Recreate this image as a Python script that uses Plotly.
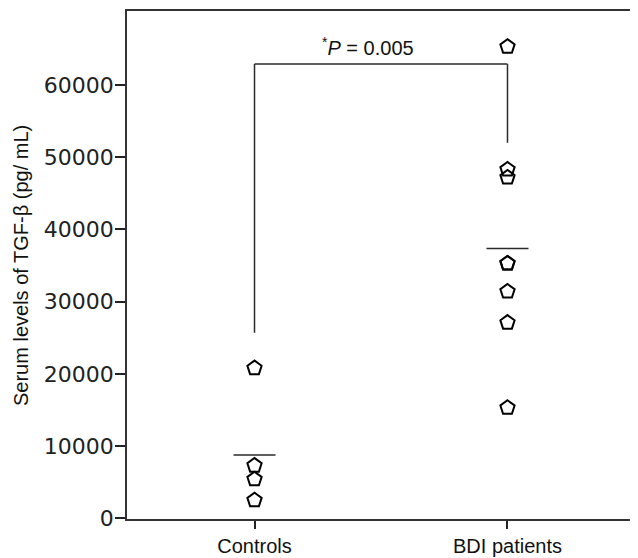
import plotly.graph_objects as go

categories = ["Controls", "BDI patients"]
controls = [20800, 7300, 5400, 2500]
bdi = [65300, 48300, 47200, 35300, 35300, 31400, 27100, 15300]
group_means = [8750, 37350]
y_ticks = [0, 10000, 20000, 30000, 40000, 50000, 60000]
bracket_y = [25700, 62900, 52000]
p_label = "<sup>*</sup><i>P</i> = 0.005"
y_title = "Serum levels of TGF-β (pg/ mL)"

fig = go.Figure()
marker = dict(symbol="pentagon-open", size=15, color="black", line=dict(width=2, color="black"))
fig.add_trace(go.Scatter(x=[0] * len(controls), y=controls, mode="markers", marker=marker, showlegend=False))
fig.add_trace(go.Scatter(x=[1] * len(bdi), y=bdi, mode="markers", marker=marker, showlegend=False))

line_style = dict(color="#2a2a2a", width=1.5)
half = 0.083
for i, m in enumerate(group_means):
    fig.add_shape(type="line", xref="x", yref="y", x0=i - half, x1=i + half, y0=m, y1=m, line=line_style)

# significance bracket
fig.add_shape(type="line", xref="x", yref="y", x0=0, x1=0, y0=bracket_y[0], y1=bracket_y[1], line=line_style)
fig.add_shape(type="line", xref="x", yref="y", x0=0, x1=1, y0=bracket_y[1], y1=bracket_y[1], line=line_style)
fig.add_shape(type="line", xref="x", yref="y", x0=1, x1=1, y0=bracket_y[1], y1=bracket_y[2], line=line_style)

fig.add_annotation(x=0.45, y=bracket_y[1], xref="x", yref="y", text=p_label, showarrow=False,
                   yanchor="bottom", xanchor="center", yshift=3,
                   font=dict(family="Liberation Sans, Arial", size=20, color="#111111"))

# y-axis title as a rotated annotation, placed left of the tick labels
fig.add_annotation(x=0, xref="paper", xshift=-106, y=0.5, yref="paper", yshift=-1,
                   text=y_title, textangle=-90, showarrow=False,
                   xanchor="center", yanchor="middle",
                   font=dict(family="Liberation Sans, Arial", size=20, color="#111111"))

# the page adds an 8px body margin, so the figure is drawn 8px smaller
fig.update_layout(
    width=630, height=550,
    margin=dict(l=119, r=1, t=2, b=38),
    paper_bgcolor="white", plot_bgcolor="white",
    font=dict(family="Liberation Sans, Arial", size=20, color="#111111"),
)
fig.update_xaxes(range=[-0.504, 1.504], tickvals=[0, 1], ticktext=categories,
                 showline=True, mirror=True, linecolor="#333333", linewidth=1.5,
                 ticks="outside", ticklen=8, tickwidth=2, tickcolor="#222222",
                 showgrid=False, zeroline=False, tickfont=dict(size=20, color="#111111"))
fig.update_yaxes(range=[-100, 70250], tickvals=y_ticks, ticktext=[str(v) for v in y_ticks],
                 showline=True, mirror=True, linecolor="#333333", linewidth=1.5,
                 ticks="outside", ticklen=10, tickwidth=2, tickcolor="#222222",
                 ticklabelstandoff=-3,
                 showgrid=False, zeroline=False,
                 tickfont=dict(family="DejaVu Sans", size=22, color="#222222"))

fig.write_html("out.html")
